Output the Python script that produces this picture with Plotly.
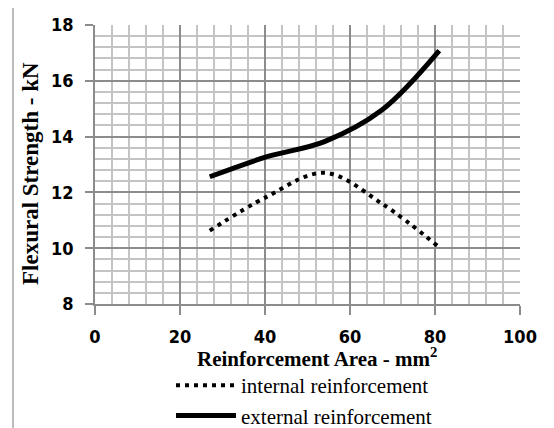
import plotly.graph_objects as go

area = [27, 40.5, 54, 67.5, 81]
internal = [10.63, 11.85, 12.7, 11.6, 10.03]
external = [12.56, 13.28, 13.82, 14.95, 17.08]
x_ticks = [0, 20, 40, 60, 80, 100]
y_ticks = [8, 10, 12, 14, 16, 18]

# page has an 8px body margin: figure coords = page coords - 8
OFF = 8
W, H = 554 - OFF, 428 - OFF
L, T = 95 - OFF, 25 - OFF
R = W - (520 - OFF)
B = H - (304 - OFF)
pw, ph = W - L - R, H - T - B

def px(xp):  # page pixel -> paper x
    return (xp - OFF - L) / pw

def py(yp):  # page pixel -> paper y
    return (H - B - (yp - OFF)) / ph

fig = go.Figure()
fig.add_trace(go.Scatter(
    x=area, y=internal, mode="lines", name="internal reinforcement",
    line=dict(color="black", width=4, dash="4px,5px", shape="spline", smoothing=1.0),
))
fig.add_trace(go.Scatter(
    x=area, y=external, mode="lines", name="external reinforcement",
    line=dict(color="black", width=5, shape="spline", smoothing=1.0),
))

tickfont = dict(family="DejaVu Sans Condensed, sans-serif", size=18, color="black", weight="bold")
serif = "Liberation Serif, Times New Roman, serif"

fig.update_xaxes(
    range=[0, 100], tickvals=x_ticks, ticks="outside", ticklen=9, tickcolor="#8c8c8c", tickwidth=1.5,
    showline=True, linecolor="#8c8c8c", linewidth=1.5,
    showgrid=True, gridcolor="#8c8c8c", gridwidth=1.5,
    minor=dict(dtick=4, showgrid=True, gridcolor="#c4c4c4", gridwidth=2),
    tickfont=tickfont, zeroline=False, fixedrange=True, automargin=False,
    ticklabelstandoff=7,
)
fig.update_yaxes(
    range=[8, 18], tickvals=y_ticks, ticks="outside", ticklen=8, tickcolor="#8c8c8c", tickwidth=1.5,
    showline=True, linecolor="#8c8c8c", linewidth=1.5,
    showgrid=True, gridcolor="#8c8c8c", gridwidth=1.5,
    minor=dict(dtick=0.4, showgrid=True, gridcolor="#c4c4c4", gridwidth=2),
    tickfont=tickfont, zeroline=False, fixedrange=True, automargin=False,
    ticklabelstandoff=8,
)

fig.add_annotation(
    text="<b>Reinforcement Area - mm<sup>2</sup></b>", xref="paper", yref="paper",
    x=px(317), y=py(357), xanchor="center", yanchor="middle", showarrow=False,
    font=dict(family=serif, size=21, color="black"),
)
fig.add_annotation(
    text="<b>Flexural Strength - kN</b>", xref="paper", yref="paper", textangle=-90,
    x=px(30), y=py(174), xanchor="center", yanchor="middle", showarrow=False,
    font=dict(family=serif, size=23, color="black"),
)

fig.add_shape(type="rect", xref="paper", yref="paper",
              x0=px(13), x1=px(570), y0=py(450), y1=py(7),
              line=dict(color="#a6a6a6", width=1.5), layer="below")

fig.update_layout(
    width=W, height=H, margin=dict(l=L, r=R, t=T, b=B, autoexpand=False),
    plot_bgcolor="white", paper_bgcolor="white",
    showlegend=True,
    legend=dict(xref="container", yref="container", x=163 / W, y=1 - 357 / H,
                xanchor="left", yanchor="top",
                font=dict(family=serif, size=21, color="black"),
                bgcolor="rgba(0,0,0,0)", itemwidth=60, tracegroupgap=2),
)

fig.write_html("out.html")
